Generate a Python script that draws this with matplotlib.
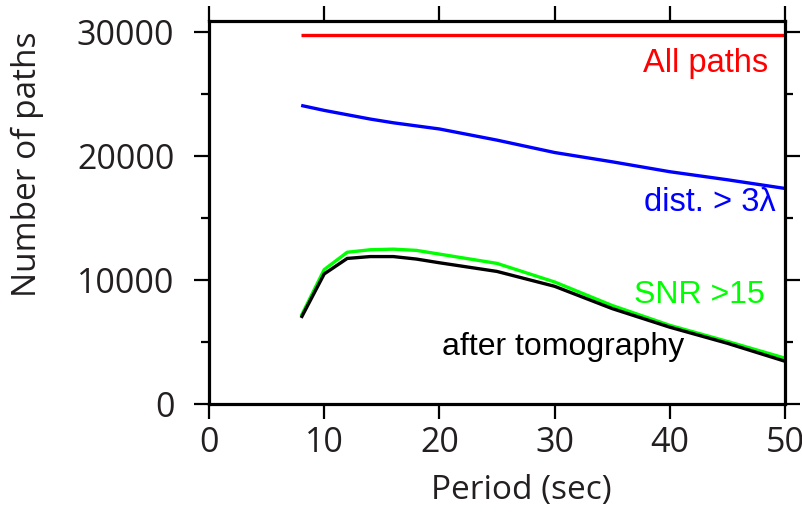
import matplotlib
matplotlib.use('Agg')
import matplotlib.pyplot as plt
from matplotlib.ticker import MultipleLocator

# data
period = [8, 10, 12, 14, 16, 18, 20, 25, 30, 35, 40, 45, 50]
all_paths = [29750] * len(period)
dist_3lambda = [24100, 23700, 23350, 23000, 22700, 22450, 22200, 21300, 20300, 19550, 18750, 18100, 17400]
snr_15 = [7100, 10850, 12250, 12450, 12500, 12400, 12100, 11350, 9850, 7950, 6350, 5050, 3700]
after_tomo = [6950, 10500, 11750, 11900, 11900, 11700, 11400, 10700, 9500, 7700, 6200, 4900, 3450]

ink = '#231f20'
tick_font = 'Open Sans'
note_font = 'Liberation Sans'

fig = plt.figure(figsize=(8.03, 5.12), dpi=100)
ax = fig.add_axes([209 / 803, 1 - 404 / 512, 576 / 803, 383.3 / 512])

ax.plot(period, all_paths, color='#ff0000', lw=2.4, solid_capstyle='butt')
ax.plot(period, dist_3lambda, color='#0000ff', lw=2.4, solid_capstyle='butt')
ax.plot(period, snr_15, color='#00ff00', lw=2.4, solid_capstyle='butt')
ax.plot(period, after_tomo, color='black', lw=2.4, solid_capstyle='butt')

ax.set_xlim(0, 50)
ax.set_ylim(0, 30940)

ax.xaxis.set_major_locator(MultipleLocator(10))
ax.yaxis.set_major_locator(MultipleLocator(10000))
ax.yaxis.set_minor_locator(MultipleLocator(5000))

for s in ax.spines.values():
    s.set_linewidth(2.3)

ax.tick_params(which='major', direction='out', length=11, width=1.6,
               top=True, right=True, colors='black', labelcolor=ink)
ax.tick_params(which='minor', direction='out', length=5.5, width=1.6,
               left=True, right=True)
ax.tick_params(axis='y', which='major', pad=14)
ax.tick_params(axis='x', which='major', pad=5)

for lab in ax.get_xticklabels() + ax.get_yticklabels():
    lab.set_fontfamily(tick_font)
    lab.set_fontsize(24.5)

fig.text(27 / 803, 1 - 164 / 512, 'Number of paths', rotation=90,
         ha='center', va='center', fontsize=24, family=tick_font, color=ink)
fig.text(521 / 803, 1 - 490 / 512, 'Period (sec)',
         ha='center', va='center', fontsize=24, family=tick_font, color=ink)

ax.text(48.5, 27500, 'All paths', color='#ff0000', fontsize=23.5,
        family=note_font, ha='right', va='center')
ax.text(49.2, 16300, 'dist. > 3λ', color='#0000ff', fontsize=23.5,
        family=note_font, ha='right', va='center')
ax.text(48.2, 8800, 'SNR >15', color='#00ff00', fontsize=23,
        family=note_font, ha='right', va='center')
ax.text(20.2, 4600, 'after tomography', color='black', fontsize=23,
        family=note_font, ha='left', va='center')

fig.savefig('out.png', dpi=100)
